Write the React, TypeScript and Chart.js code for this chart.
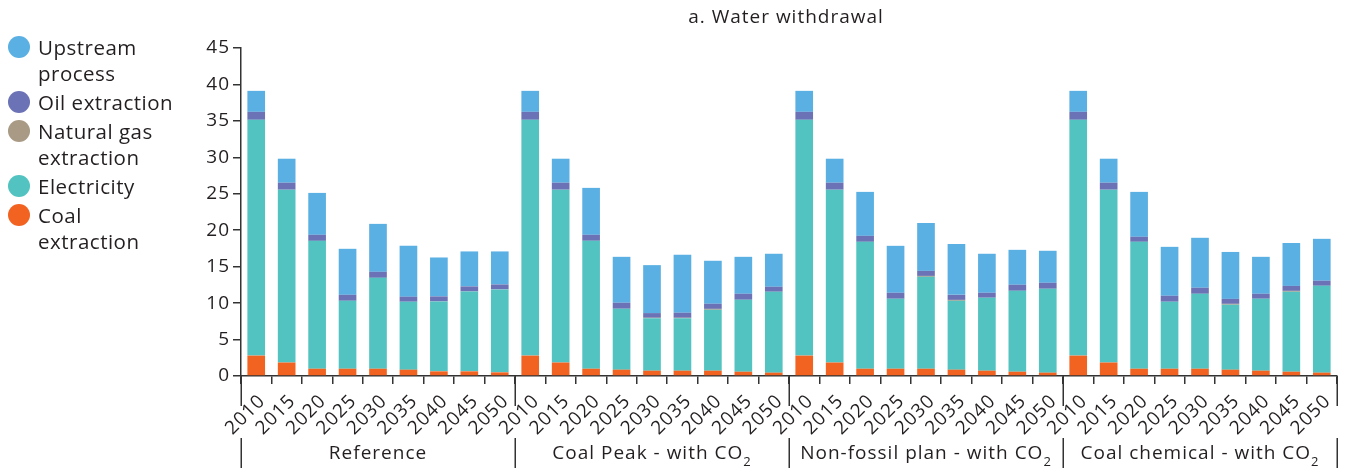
import React, { useEffect, useRef } from "react";
import { Chart, registerables } from "chart.js";

Chart.register(...registerables);

const years = ["2010", "2015", "2020", "2025", "2030", "2035", "2040", "2045", "2050"];
const scenarios = ["Reference", "Coal Peak - with CO₂", "Non-fossil plan - with CO₂", "Coal chemical - with CO₂"];
const yTicks = [0, 5, 10, 15, 20, 25, 30, 35, 40, 45];
const chartTitle = "a. Water withdrawal";

// Stacked segments, ordered by scenario (Reference, Coal Peak, Non-fossil, Coal chemical) x year
const coalExtraction = [
  2.8, 1.85, 1.0, 1.0, 1.0, 0.87, 0.64, 0.64, 0.5,
  2.8, 1.85, 1.0, 0.87, 0.73, 0.73, 0.73, 0.59, 0.46,
  2.8, 1.85, 1.0, 1.0, 1.0, 0.87, 0.73, 0.59, 0.46,
  2.8, 1.85, 1.0, 1.0, 1.0, 0.87, 0.73, 0.59, 0.46,
];
const electricity = [
  32.35, 23.71, 17.54, 9.32, 12.47, 9.32, 9.59, 10.96, 11.38,
  32.35, 23.71, 17.55, 8.36, 7.2, 7.2, 8.36, 9.87, 11.1,
  32.35, 23.71, 17.41, 9.6, 12.61, 9.45, 10.01, 11.1, 11.51,
  32.35, 23.71, 17.41, 9.19, 10.28, 8.91, 9.87, 10.97, 11.92,
];
const naturalGas = [
  0, 0, 0, 0, 0, 0, 0, 0, 0,
  0, 0, 0, 0, 0.06, 0.06, 0.12, 0, 0,
  0, 0, 0, 0, 0.12, 0.12, 0, 0, 0,
  0, 0, 0, 0, 0, 0.12, 0, 0.12, 0,
];
const oilExtraction = [
  1.09, 0.96, 0.83, 0.82, 0.82, 0.69, 0.69, 0.69, 0.68,
  1.09, 0.96, 0.82, 0.82, 0.64, 0.69, 0.7, 0.82, 0.68,
  1.09, 0.96, 0.82, 0.82, 0.69, 0.69, 0.68, 0.83, 0.82,
  1.09, 0.96, 0.69, 0.82, 0.83, 0.68, 0.68, 0.68, 0.69,
];
const upstreamProcess = [
  2.88, 3.29, 5.75, 6.31, 6.58, 6.99, 5.34, 4.8, 4.53,
  2.88, 3.29, 6.44, 6.3, 6.58, 7.95, 5.9, 5.07, 4.53,
  2.88, 3.29, 6.03, 6.44, 6.57, 6.99, 5.35, 4.79, 4.39,
  2.88, 3.29, 6.16, 6.71, 6.85, 6.44, 5.07, 5.89, 5.75,
];

const seriesNames = ["Coal extraction", "Electricity", "Natural gas extraction", "Oil extraction", "Upstream process"];
const seriesColors = ["#f26322", "#52c3c0", "#a89a85", "#6b72b5", "#5aafe3"];
const seriesData = [coalExtraction, electricity, naturalGas, oilExtraction, upstreamProcess];
const legendLines = [
  ["Upstream", "process"],
  ["Oil extraction"],
  ["Natural gas", "extraction"],
  ["Electricity"],
  ["Coal", "extraction"],
];
const legendColors = ["#5aafe3", "#6b72b5", "#a89a85", "#52c3c0", "#f26322"];

const FONT = "'Open Sans', sans-serif";
const TEXT = "#231f20";
const AXIS = "#333333";

const spacingPlugin = {
  id: "spacing",
  beforeLayout(chart: any) {
    chart.ctx.letterSpacing = "1px";
  },
  beforeDraw(chart: any) {
    chart.ctx.letterSpacing = "1px";
  },
};

const groupPlugin = {
  id: "groups",
  afterDraw(chart: any) {
    const { ctx, chartArea } = chart;
    const x = chart.scales.x;
    const n = years.length;
    const bottom = chartArea.bottom;
    const boundary = (g: number) => {
      if (g === 0) return chartArea.left;
      if (g === scenarios.length) return chartArea.right;
      return (x.getPixelForValue(g * n) + x.getPixelForValue(g * n - 1)) / 2;
    };
    ctx.save();
    ctx.letterSpacing = "1px";
    ctx.strokeStyle = AXIS;
    ctx.lineWidth = 1.5;
    for (let g = 0; g <= scenarios.length; g++) {
      const px = Math.round(boundary(g)) + 0.25;
      ctx.beginPath();
      ctx.moveTo(px, bottom);
      ctx.lineTo(px, bottom + 30);
      ctx.moveTo(px, bottom + 62);
      ctx.lineTo(px, bottom + 92);
      ctx.stroke();
    }
    ctx.fillStyle = TEXT;
    ctx.textBaseline = "middle";
    scenarios.forEach((s, g) => {
      const cx = (boundary(g) + boundary(g + 1)) / 2;
      const hasSub = s.endsWith("₂");
      const main = hasSub ? s.slice(0, -1) : s;
      ctx.font = `19px ${FONT}`;
      const w1 = ctx.measureText(main).width;
      ctx.font = `13px ${FONT}`;
      const w2 = hasSub ? ctx.measureText("2").width : 0;
      const start = cx - (w1 + w2) / 2;
      ctx.textAlign = "left";
      ctx.font = `19px ${FONT}`;
      ctx.fillText(main, start, bottom + 78);
      if (hasSub) {
        ctx.font = `13px ${FONT}`;
        ctx.fillText("2", start + w1, bottom + 86);
      }
    });
    ctx.font = `19px ${FONT}`;
    ctx.textAlign = "center";
    ctx.fillText(chartTitle, 786, 18);
    ctx.restore();
  },
};

export default function App() {
  const canvasRef = useRef<HTMLCanvasElement | null>(null);

  useEffect(() => {
    const canvas = canvasRef.current;
    if (!canvas) return;
    const labels: string[] = [];
    scenarios.forEach(() => years.forEach((y) => labels.push(y)));
    const chart = new Chart(canvas, {
      type: "bar",
      data: {
        labels,
        datasets: seriesNames.map((name, i) => ({
          label: name,
          data: seriesData[i],
          backgroundColor: seriesColors[i],
          borderWidth: 0,
          barPercentage: 0.58,
          categoryPercentage: 1,
        })),
      },
      plugins: [spacingPlugin, groupPlugin],
      options: {
        responsive: false,
        animation: false,
        devicePixelRatio: 1,
        layout: { padding: { top: 48, right: 8, left: 0, bottom: 0 } },
        plugins: {
          legend: { display: false },
          tooltip: { enabled: false },
          title: { display: false },
        },
        scales: {
          x: {
            stacked: true,
            offset: true,
            grid: {
              offset: true,
              drawOnChartArea: false,
              tickLength: 8,
              color: AXIS,
              lineWidth: 1.5,
            },
            border: { color: AXIS, width: 1.5 },
            ticks: {
              autoSkip: false,
              maxRotation: 45,
              minRotation: 45,
              padding: 6,
              labelOffset: 6,
              color: TEXT,
              font: { family: FONT, size: 19 },
            },
            afterFit: (scale: any) => {
              scale.height = 94;
            },
          },
          y: {
            stacked: true,
            min: 0,
            max: 45,
            afterBuildTicks: (scale: any) => {
              scale.ticks = yTicks.map((v) => ({ value: v }));
            },
            grid: {
              drawOnChartArea: false,
              tickLength: 8,
              color: AXIS,
              lineWidth: 1.5,
            },
            border: { color: AXIS, width: 1.5 },
            ticks: {
              padding: 3,
              color: TEXT,
              font: { family: FONT, size: 19 },
            },
            afterFit: (scale: any) => {
              scale.width = 241;
            },
          },
        },
      },
    });
    return () => chart.destroy();
  }, []);

  return (
    <div style={{ position: "absolute", left: 0, top: 0, width: 1345, height: 470, background: "#fff" }}>
      <canvas ref={canvasRef} width={1345} height={470} style={{ position: "absolute", left: 0, top: 0 }} />
      <div
        style={{
          position: "absolute",
          left: 8,
          top: 34,
          fontFamily: FONT,
          fontSize: 20.5,
          letterSpacing: "0.5px",
          color: TEXT,
        }}
      >
        {legendLines.map((lines, i) => (
          <div key={i} style={{ position: "relative", paddingLeft: 30, marginBottom: 3 }}>
            <span
              style={{
                position: "absolute",
                left: 0,
                top: 2,
                width: 22,
                height: 22,
                borderRadius: "50%",
                background: legendColors[i],
              }}
            />
            {lines.map((t, j) => (
              <div key={j} style={{ lineHeight: "26px", whiteSpace: "nowrap" }}>
                {t}
              </div>
            ))}
          </div>
        ))}
      </div>
    </div>
  );
}
